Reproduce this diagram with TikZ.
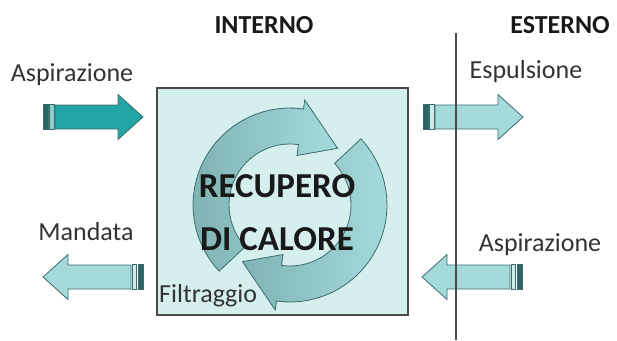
\documentclass[tikz,border=0pt]{standalone}
\usepackage{fontspec}
\setmainfont{Carlito}
\usepackage{xcolor}
\usepackage{tikz}
\usetikzlibrary{positioning}

\definecolor{fondo}{HTML}{D5EEEE}
\definecolor{azzurro}{HTML}{A5DADB}
\definecolor{azzurroscuro}{HTML}{7FB3B4}
\definecolor{verdeacqua}{HTML}{23A4A5}
\definecolor{bordo}{HTML}{3D6C6D}
\definecolor{barra}{HTML}{2B6465}
\definecolor{grigio}{HTML}{4A4A4A}

\tikzset{
  etichetta/.style={font=\fontsize{26}{30}\selectfont, text=black!80, anchor=base, inner sep=0pt},
  titolo/.style={font=\fontsize{26}{30}\selectfont\bfseries, text=black!90, anchor=base, inner sep=0pt},
  centro/.style={font=\fontsize{35}{40}\selectfont\bfseries, text=black!90, anchor=base, inner sep=0pt},
  pics/flusso/.style={code={
    \filldraw[fill=barra, draw=bordo, line width=0.6pt] (0,-12.5) rectangle (5,12.5);
    \filldraw[fill=#1!55!white, draw=bordo, line width=0.6pt] (6.5,-12.5) rectangle (11,12.5);
    \filldraw[fill=#1, draw=bordo, line width=0.8pt] (12,-12) -- (75,-12) -- (75,-22.5) -- (100,0)
      -- (75,22.5) -- (75,12) -- (12,12) -- cycle;
  }}
}

\begin{document}
\begin{tikzpicture}[x=1pt, y=-1pt]
  \useasboundingbox (0,0) rectangle (617,340);

  % Scatola del recuperatore
  \draw[grigio, line width=1.2pt, fill=fondo] (157,88) rectangle (408,315);

  % Frecce circolari
  \foreach \r in {0,180}
    \draw[shift={(290,205)}, rotate=\r, draw=bordo, line width=0.8pt, left color=azzurroscuro, right color=azzurro]
      plot[domain=137:278, samples=30] (\x:97) -- (278:106) -- (310:74) -- (278:50)
      -- plot[domain=278:137, samples=30] (\x:61) -- cycle;

  \node[titolo] (interno) at (264,33) {INTERNO};
  \node[titolo] (esterno) at (560,33) {ESTERNO};
  \node[centro] (recupero) at (277,197) {RECUPERO};
  \node[centro] (calore) at (277,250) {DI CALORE};
  \node[etichetta, anchor=base west] (filtro) at (159,302) {Filtraggio};

  % Flussi d'aria
  \node[etichetta] (asp int) at (72,81) {Aspirazione};
  \node[etichetta] (mandata) at (86,240) {Mandata};
  \node[etichetta] (espulsione) at (526,78) {Espulsione};
  \node[etichetta] (asp est) at (540,251) {Aspirazione};
  \pic at (43,117) {flusso=verdeacqua};
  \pic at (423,117) {flusso=azzurro};
  \pic[xscale=-1] at (143,277) {flusso=azzurro};
  \pic[xscale=-1] at (522,277) {flusso=azzurro};

  % Confine interno/esterno
  \coordinate (confine alto) at (456,33);
  \coordinate (confine basso) at (456,340);
  \draw[grigio, line width=1.2pt] (confine alto) -- (confine basso);
\end{tikzpicture}
\end{document}
